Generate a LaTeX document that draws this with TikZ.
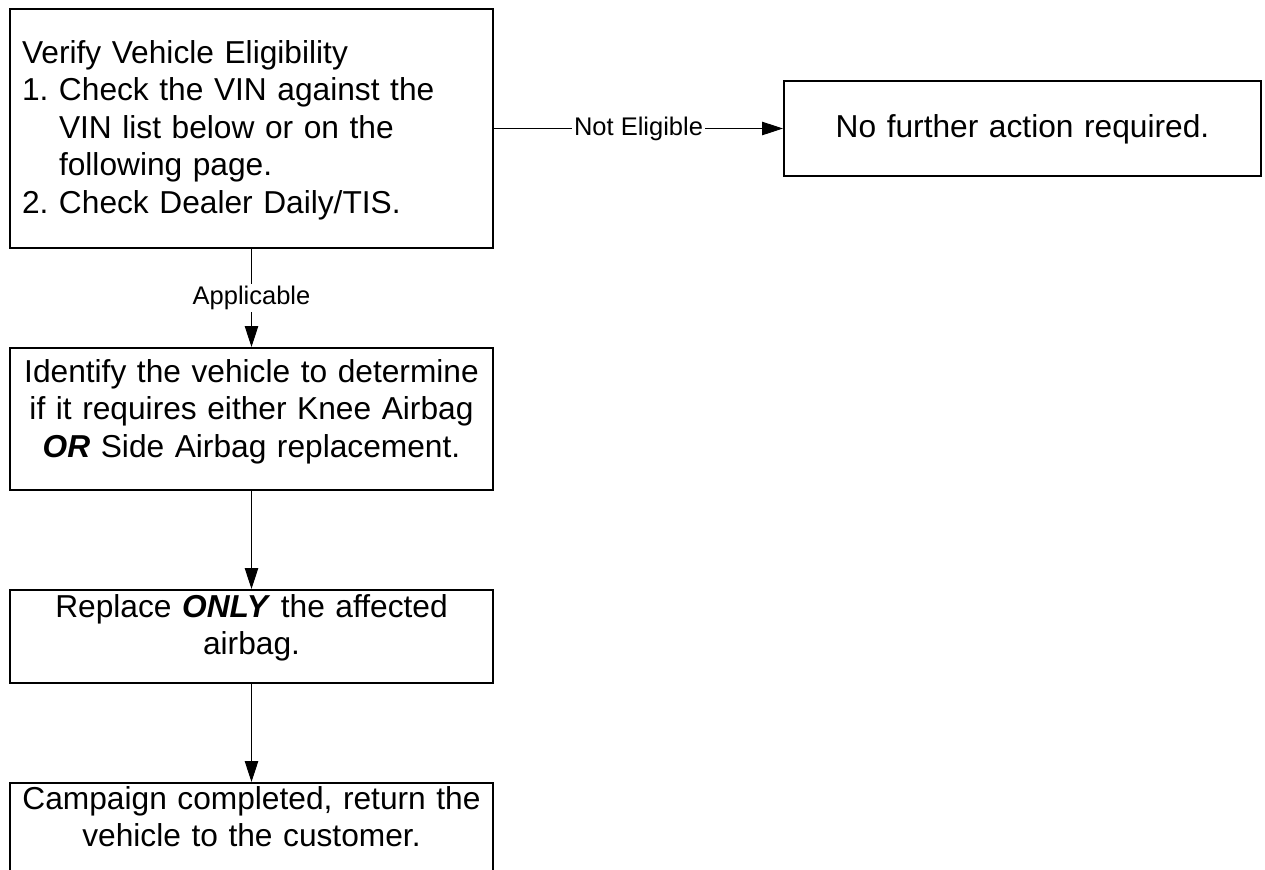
\documentclass[tikz,border=0pt]{standalone}
\usepackage{fontspec}
\setmainfont{Liberation Sans}
\usetikzlibrary{positioning, arrows.meta}

\begin{document}
\begin{tikzpicture}[x=0.5pt, y=-0.5pt,
    stepbox/.style={draw, line width=1pt, inner xsep=2pt, inner ysep=0pt, text width=237.5pt, align=center,
        font=\fontsize{15.85pt}{18.75pt}\selectfont},
    lbl/.style={fill=white, inner sep=1pt, font=\fontsize{12.75pt}{14pt}\selectfont}]
        \path[use as bounding box, clip] (0,0) rectangle (1265,869);

        \node[stepbox, align=left, inner xsep=6pt, text width=229.5pt, text height=27pt, text depth=92.5pt] (ve) at (251.5,128.5)
            {Verify Vehicle Eligibility\\1.~Check the VIN against the\\\phantom{1.~}VIN list below or on the\\\phantom{1.~}following page.\\2.~Check Dealer Daily/TIS.};

        \node[stepbox, text width=234.5pt, text height=28pt, text depth=19.5pt] (nf) [right = 144.5pt of ve] {No further action required.};

        \node[stepbox, text height=17pt, text depth=54pt] (id) [below = 49pt of ve]
            {Identify the vehicle to determine\\if it requires either Knee Airbag\\\textbf{\textit{OR}} Side Airbag replacement.};
        \node[stepbox, text height=13.5pt, text depth=33pt] (ra) [below = 49pt of id] {Replace \textbf{\textit{ONLY}} the affected\\airbag.};
        \node[stepbox, text height=13pt, text depth=45pt] (cc) [below = 49pt of ra] {Campaign completed, return the\\vehicle to the customer.};

        \path[-{Triangle[length=10.5pt, width=6.75pt]}, line width=0.5pt]
            (ve) edge node[lbl] {Not Eligible} (nf)
            (ve) edge node[lbl] {Applicable} (id)

            (id) edge (ra)
            (ra) edge (cc)
            ;
    \end{tikzpicture}
\end{document}
